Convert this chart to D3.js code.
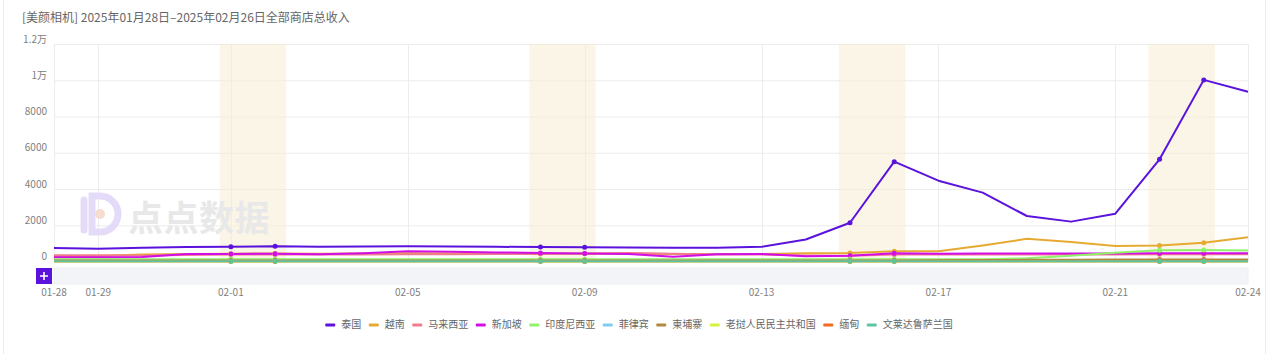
<!DOCTYPE html>
<html><head><meta charset="utf-8">
<script src="https://cdn.jsdelivr.net/npm/d3@7/dist/d3.min.js"></script>
<style>
html,body{margin:0;padding:0;background:#fff;}
svg{display:block;font-family:"Noto Sans CJK SC","Noto Sans",sans-serif;}
</style></head>
<body>
<svg id="chart" width="1274" height="354"></svg>
<script>
const titleText = "[美颜相机] 2025年01月28日–2025年02月26日全部商店总收入";
const dates = ["01-28","01-29","01-30","01-31","02-01","02-02","02-03","02-04","02-05","02-06","02-07","02-08","02-09","02-10","02-11","02-12","02-13","02-14","02-15","02-16","02-17","02-18","02-19","02-20","02-21","02-22","02-23","02-24"];
const xTickLabels = ["01-28","01-29","02-01","02-05","02-09","02-13","02-17","02-21","02-24"];
const weekendBands = [["02-01","02-02"],["02-08","02-09"],["02-15","02-16"],["02-22","02-23"]];
const yTicks = [0,2000,4000,6000,8000,10000,12000];
const yTickLabels = ["0","2000","4000","6000","8000","1万","1.2万"];
const seriesNames = ["泰国","越南","马来西亚","新加坡","印度尼西亚","菲律宾","柬埔寨","老挝人民民主共和国","缅甸","文莱达鲁萨兰国"];
const seriesColors = ["#5a12dc","#e6aa33","#f07b8c","#d20ee6","#8ef26a","#7dcdf2","#b08a3e","#d3f53d","#f26b1f","#5ec4a0"];
const thailand  = [745,705,760,800,815,840,810,830,840,830,810,800,785,775,765,765,810,1215,2140,5510,4460,3800,2510,2200,2640,5640,10020,9370];
const vietnam   = [300,310,380,420,430,440,430,440,450,440,440,430,430,430,420,420,420,450,470,560,560,880,1250,1070,850,880,1030,1340];
const malaysia  = [340,340,330,360,380,390,380,390,400,400,410,420,440,470,430,390,380,330,320,380,380,390,390,390,390,400,400,400];
const singapore = [230,240,250,420,420,430,400,460,560,540,500,470,440,420,260,400,420,290,320,450,430,440,440,440,440,460,460,450];
const indonesia = [120,120,120,120,120,120,120,120,120,120,120,120,120,120,120,120,120,120,120,120,120,130,180,320,480,620,640,610];
const philippines=[40,40,40,40,40,40,40,40,40,40,40,40,40,40,40,40,40,40,40,40,40,40,40,40,40,40,40,40];
const cambodia  = [60,60,60,60,60,60,60,60,60,60,60,60,60,60,60,60,60,60,60,60,70,80,90,100,110,110,110,110];
const laos      = [5,5,5,5,5,5,5,5,5,5,5,5,5,5,5,5,5,5,5,5,5,5,5,5,5,5,5,5];
const myanmar   = [10,10,10,10,10,10,10,10,10,10,10,10,10,10,10,10,10,10,10,10,10,10,10,10,10,10,10,10];
const brunei    = [20,20,20,20,20,20,20,20,20,20,20,20,20,20,20,20,20,20,20,20,20,20,20,20,20,20,20,20];
const seriesValues = [thailand,vietnam,malaysia,singapore,indonesia,philippines,cambodia,laos,myanmar,brunei];
const dotDates = ["02-01","02-02","02-08","02-09","02-15","02-16","02-22","02-23"];

const svg = d3.select("#chart");
const L = 54, R = 1248, T = 44, B = 261.5;
const x = d3.scalePoint().domain(dates).range([L, R]);
const step = x.step();
const y = d3.scaleLinear().domain([0, 12000]).range([B, T]);

// card border
svg.append("rect").attr("x",3.5).attr("y",-2).attr("width",1262).attr("height",360)
  .attr("fill","none").attr("stroke","#ececec");

// title
svg.append("text").attr("x",22).attr("y",19).attr("dominant-baseline","middle")
  .attr("font-size",12).attr("fill","#666").text(titleText);

// horizontal grid
svg.append("g").selectAll("line").data(yTicks).join("line")
  .attr("x1",L).attr("x2",R).attr("y1",d=>y(d)+0.5).attr("y2",d=>y(d)+0.5)
  .attr("stroke","#ececec");

// vertical grid
svg.append("g").selectAll("line").data(xTickLabels).join("line")
  .attr("x1",d=>Math.round(x(d))+0.5).attr("x2",d=>Math.round(x(d))+0.5).attr("y1",T).attr("y2",B)
  .attr("stroke","#ececec");

// weekend bands
svg.append("g").selectAll("rect").data(weekendBands).join("rect")
  .attr("x",d=>x(d[0])-step*0.25).attr("width",d=>x(d[1])-x(d[0])+step*0.5)
  .attr("y",T).attr("height",B-T).attr("fill","#f7ecd6").attr("opacity",0.55);

// y labels
svg.append("g").selectAll("text").data(yTicks).join("text")
  .attr("x",47).attr("y",d=>y(d)-4).attr("text-anchor","end").attr("dominant-baseline","middle")
  .attr("font-size",10).attr("fill","#808080").text((d,i)=>yTickLabels[i]);

// watermark
const wm = svg.append("g").attr("opacity",1);
wm.append("path").attr("d","M84,200 L84,230 M92,196 L100,196 A17,17 0 0 1 100,232 L92,232 Z")
  .attr("fill","none").attr("stroke","#e4dbf8").attr("stroke-width",7).attr("stroke-linecap","round");
wm.append("circle").attr("cx",100).attr("cy",214).attr("r",5).attr("fill","#f7dcd2");
wm.append("text").attr("x",128).attr("y",231).attr("font-size",35).attr("font-weight","bold")
  .attr("fill","#e8e8e8").attr("letter-spacing",0.5).text("点点数据");

// lines
const line = d3.line().x((d,i)=>x(dates[i])).y(d=>y(d)).curve(d3.curveLinear);
const gl = svg.append("g");
seriesValues.forEach((vals,si)=>{
  gl.append("path").datum(vals).attr("d",line).attr("fill","none")
    .attr("stroke",seriesColors[si]).attr("stroke-width",2).attr("stroke-linejoin","round");
});
seriesValues.forEach((vals,si)=>{
  gl.append("g").selectAll("circle").data(dotDates).join("circle")
    .attr("cx",d=>x(d)).attr("cy",d=>y(vals[dates.indexOf(d)])).attr("r",2.5)
    .attr("fill",seriesColors[si]);
});

// slider
svg.append("rect").attr("x",L).attr("y",268).attr("width",R-L).attr("height",16)
  .attr("fill","#f3f4f7").attr("stroke","#eceef2");
svg.append("rect").attr("x",36).attr("y",268).attr("width",16).attr("height",16).attr("fill","#5a12dc");
svg.append("path").attr("d","M40,276 L48,276 M44,272 L44,280").attr("stroke","#fff").attr("stroke-width",1.6);

// x labels
svg.append("g").selectAll("text").data(xTickLabels).join("text")
  .attr("x",d=>x(d)).attr("y",293).attr("text-anchor","middle").attr("dominant-baseline","middle")
  .attr("font-size",10).attr("fill","#808080").text(d=>d);

// legend
const lg = svg.append("g");
const items = [];
seriesNames.forEach((n,i)=>{
  const g = lg.append("g");
  g.append("rect").attr("x",0).attr("y",-1.5).attr("width",10).attr("height",3).attr("rx",1).attr("fill",seriesColors[i]);
  const t = g.append("text").attr("x",16).attr("y",0).attr("dominant-baseline","middle")
    .attr("font-size",10).attr("fill","#666").text(n);
  const w = 16 + t.node().getComputedTextLength();
  items.push({g,w});
});
const gap = 7.5;
const total = d3.sum(items,d=>d.w) + gap*(items.length-1);
let px = 639 - total/2;
items.forEach(it=>{ it.g.attr("transform",`translate(${px},325)`); px += it.w + gap; });
</script>
</body></html>
